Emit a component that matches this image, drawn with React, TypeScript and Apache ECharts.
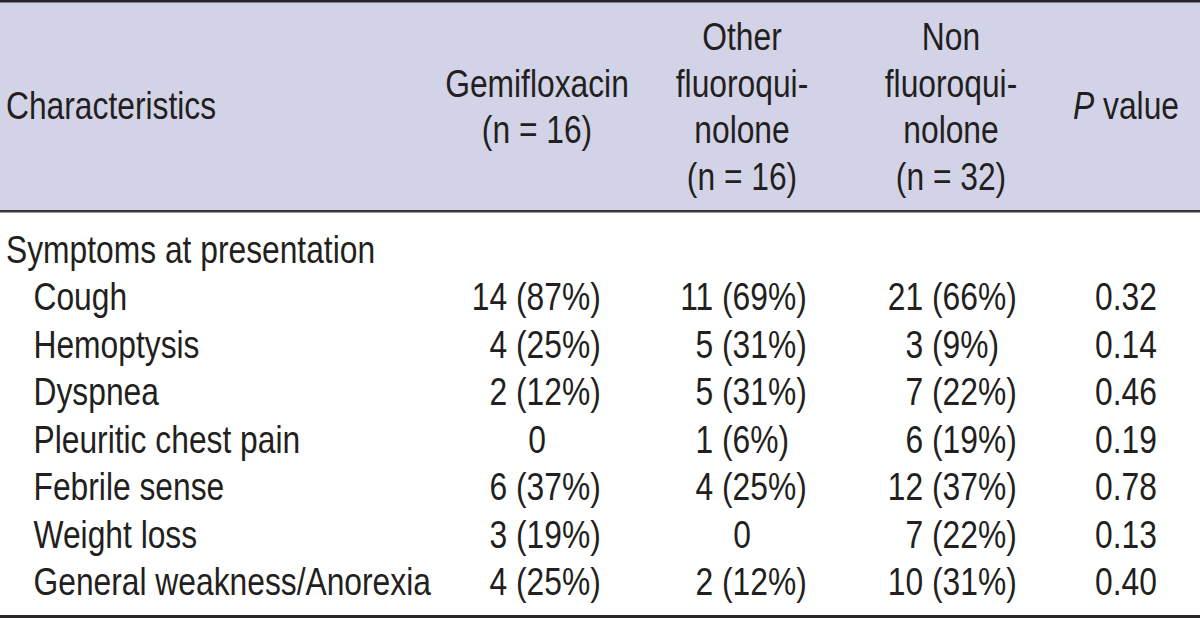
import React, { useEffect, useRef } from "react";
import * as echarts from "echarts";

// ---- data ----
const headerCharacteristics = "Characteristics";
const headerGroups: string[][] = [
  ["Gemifloxacin", "(n = 16)"],
  ["Other", "fluoroqui-", "nolone", "(n = 16)"],
  ["Non", "fluoroqui-", "nolone", "(n = 32)"],
];
const headerP = "{i|P} value";
const sectionLabel = "Symptoms at presentation";
const rowLabels = [
  "Cough",
  "Hemoptysis",
  "Dyspnea",
  "Pleuritic chest pain",
  "Febrile sense",
  "Weight loss",
  "General weakness/Anorexia",
];
const gemifloxacin = ["14 (87%)", "4 (25%)", "2 (12%)", "0", "6 (37%)", "3 (19%)", "4 (25%)"];
const otherFluoroquinolone = ["11 (69%)", "5 (31%)", "5 (31%)", "1 (6%)", "4 (25%)", "0", "2 (12%)"];
const nonFluoroquinolone = ["21 (66%)", "3 (9%)", "7 (22%)", "6 (19%)", "12 (37%)", "7 (22%)", "10 (31%)"];
const pValues = ["0.32", "0.14", "0.46", "0.19", "0.78", "0.13", "0.40"];

// ---- layout ----
const W = 1200;
const H = 618;
const FONT = "'Liberation Sans', Arial, sans-serif";
const FS = 39;
const SX = 0.815;
const TEXT = "#231f20";
const HEADER_BG = "#d3d3e7";
const RULE = "#2a2627";
const headerBottom = 211;
const colCenters = [537, 742, 951];
const parenX = [516, 722, 932];
const pCenter = 1126;
const labelX = 6;
const indentX = 33.5;
const firstRowY = 249.5;
const rowStep = 47.5;
const headerLineYs = [37, 83.5, 130, 176.5];

let measureCtx: CanvasRenderingContext2D | null = null;
function measure(s: string): number {
  if (!measureCtx) {
    measureCtx = document.createElement("canvas").getContext("2d")!;
    measureCtx.font = `${FS}px ${FONT}`;
  }
  return measureCtx.measureText(s).width * SX;
}

function txt(text: string, x: number, y: number, align: string, extra: any = {}) {
  return {
    type: "text",
    x,
    y,
    scaleX: SX,
    silent: true,
    style: {
      text,
      x: 0,
      y: 0,
      fill: TEXT,
      fontSize: FS,
      fontFamily: FONT,
      align,
      verticalAlign: "middle",
      ...extra,
    },
  };
}

function cellElement(value: string, col: number, y: number) {
  const idx = value.indexOf("(");
  if (idx < 0) return txt(value, colCenters[col], y, "center");
  const before = value.slice(0, idx);
  return txt(value, parenX[col] - measure(before), y, "left");
}

export default function App() {
  const ref = useRef<HTMLDivElement>(null);
  useEffect(() => {
    if (!ref.current) return;
    const chart = echarts.init(ref.current, null, { renderer: "svg" });
    const els: any[] = [];
    // header background and rules
    els.push({ type: "rect", shape: { x: 0, y: 0, width: W, height: headerBottom }, style: { fill: HEADER_BG }, silent: true });
    els.push({ type: "rect", shape: { x: 0, y: 0, width: W, height: 2.6 }, style: { fill: RULE }, silent: true });
    els.push({ type: "rect", shape: { x: 0, y: headerBottom - 1, width: W, height: 2.4 }, style: { fill: "#3a3637" }, silent: true });
    els.push({ type: "rect", shape: { x: 0, y: 615, width: W, height: 3 }, style: { fill: RULE }, silent: true });

    // header texts
    els.push(txt(headerCharacteristics, labelX, 106, "left"));
    headerGroups.forEach((lines, gi) => {
      const ys = lines.length === 2 ? [headerLineYs[1], headerLineYs[2]] : headerLineYs;
      lines.forEach((l, li) => els.push(txt(l, colCenters[gi], ys[li], "center")));
    });
    els.push(
      txt(headerP, pCenter, 106, "center", {
        rich: { i: { fontStyle: "italic", fontSize: FS, fontFamily: FONT, fill: TEXT } },
      })
    );

    // body
    els.push(txt(sectionLabel, labelX, firstRowY, "left"));
    rowLabels.forEach((lab, i) => {
      const y = firstRowY + rowStep * (i + 1);
      els.push(txt(lab, indentX, y, "left"));
      els.push(cellElement(gemifloxacin[i], 0, y));
      els.push(cellElement(otherFluoroquinolone[i], 1, y));
      els.push(cellElement(nonFluoroquinolone[i], 2, y));
      els.push(txt(pValues[i], pCenter, y, "center"));
    });

    chart.setOption({ animation: false, backgroundColor: "#ffffff", graphic: { elements: els } });
    return () => chart.dispose();
  }, []);
  return <div ref={ref} style={{ position: "fixed", left: 0, top: 0, width: W, height: H, background: "#fff" }} />;
}
